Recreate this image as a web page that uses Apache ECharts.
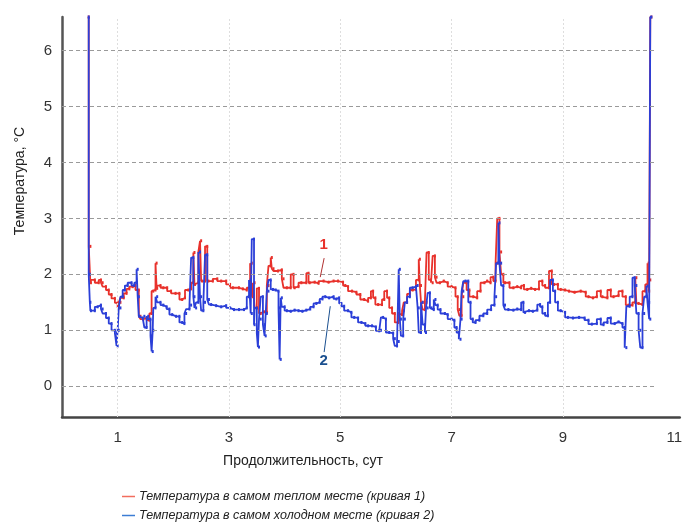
<!DOCTYPE html>
<html lang="ru">
<head>
    <meta charset="UTF-8">
    <title>Температура</title>
    <script src="https://cdn.jsdelivr.net/npm/echarts@6/dist/echarts.min.js"></script>
    <style>
        html, body { margin: 0; padding: 0; background: #fff; }
        #main { width: 685px; height: 524px; }
    </style>
</head>
<body>
<div id="main"></div>
<script>
    // время, сутки / температура в самом теплом месте (кривая 1)
    var warmDays = [0.48,0.51,0.52,0.59,0.66,0.70,0.73,0.79,0.84,0.89,0.95,1.00,1.02,1.05,1.11,1.16,1.21,1.27,1.32,1.38,
        1.41,1.46,1.52,1.57,1.61,1.64,1.68,1.70,1.71,1.77,1.82,1.89,1.96,2.04,2.11,2.16,2.21,2.27,2.32,2.36,
        2.38,2.39,2.45,2.48,2.50,2.52,2.57,2.61,2.63,2.71,2.79,2.86,2.95,3.02,3.07,3.18,3.25,3.32,3.38,3.41,
        3.43,3.46,3.50,3.54,3.57,3.63,3.68,3.71,3.75,3.77,3.80,3.88,3.95,3.98,4.04,4.11,4.16,4.18,4.25,4.30,
        4.39,4.43,4.45,4.54,4.61,4.70,4.79,4.88,4.96,5.05,5.09,5.14,5.21,5.29,5.36,5.43,5.50,5.55,5.59,5.63,
        5.68,5.75,5.79,5.84,5.88,5.93,5.98,6.04,6.05,6.11,6.14,6.20,6.25,6.30,6.36,6.41,6.43,6.45,6.48,6.52,
        6.55,6.59,6.63,6.66,6.70,6.73,6.79,6.86,6.93,7.00,7.07,7.11,7.14,7.18,7.21,7.27,7.32,7.39,7.46,7.52,
        7.59,7.64,7.70,7.75,7.79,7.82,7.86,7.89,7.93,7.96,8.04,8.11,8.18,8.25,8.30,8.36,8.43,8.50,8.57,8.63,
        8.68,8.75,8.80,8.84,8.91,8.96,9.04,9.11,9.21,9.32,9.41,9.46,9.54,9.61,9.68,9.71,9.80,9.86,9.91,10.00,
        10.07,10.13,10.18,10.25,10.30,10.32,10.36,10.43,10.48,10.52,10.54,10.55,10.57,10.59];
    var warmTemp = [6.6,2.5,1.85,1.9,1.85,1.9,1.85,1.78,1.72,1.64,1.57,1.49,1.4,1.5,1.58,1.66,1.74,1.78,1.8,1.72,
        1.25,1.2,1.22,1.18,1.3,1.7,1.72,2.2,1.75,1.8,1.76,1.76,1.7,1.66,1.66,1.55,1.58,1.72,1.74,1.85,
        2.39,1.82,1.85,2.4,2.6,1.88,1.88,2.5,1.88,1.88,1.92,1.88,1.88,1.82,1.76,1.76,1.74,1.72,1.76,2.2,
        1.6,1.85,1.4,1.75,1.3,1.33,1.32,1.8,2.15,2.3,2.1,2.06,2.08,1.92,1.76,1.76,2.0,1.76,1.78,1.85,
        1.85,2.02,1.85,1.86,1.84,1.88,1.86,1.88,1.88,1.86,1.8,1.78,1.7,1.68,1.64,1.55,1.52,1.58,1.7,1.58,
        1.46,1.46,1.55,1.7,1.58,1.4,1.3,1.14,1.3,1.28,1.35,1.5,1.65,1.72,1.73,1.9,2.27,1.8,1.5,1.37,
        1.5,2.39,1.9,1.85,2.33,1.95,1.85,1.88,1.85,1.78,1.76,1.6,1.37,1.26,1.6,1.85,1.72,1.6,1.58,1.7,
        1.85,1.88,1.85,1.95,1.88,2.2,3.0,2.4,2.0,1.85,1.85,1.76,1.78,1.76,1.8,1.73,1.75,1.73,1.74,1.88,
        1.8,1.76,2.06,1.82,1.82,1.73,1.72,1.7,1.68,1.7,1.68,1.6,1.58,1.6,1.7,1.6,1.58,1.72,1.6,1.62,
        1.7,1.6,1.45,1.45,1.5,1.94,1.48,1.46,1.7,1.82,2.2,1.7,1.9,6.6];

    // время, сутки / температура в самом холодном месте (кривая 2)
    var coldDays = [0.48,0.50,0.51,0.52,0.59,0.64,0.70,0.73,0.79,0.84,0.89,0.95,0.98,1.00,1.02,1.05,1.09,1.13,1.18,1.25,
        1.30,1.34,1.36,1.38,1.39,1.45,1.48,1.52,1.55,1.59,1.61,1.63,1.64,1.68,1.71,1.77,1.82,1.88,1.93,1.98,
        2.05,2.11,2.16,2.20,2.23,2.29,2.32,2.36,2.38,2.41,2.45,2.48,2.50,2.54,2.57,2.61,2.64,2.68,2.77,2.86,
        2.95,3.02,3.09,3.18,3.27,3.32,3.36,3.39,3.41,3.45,3.46,3.50,3.52,3.54,3.57,3.61,3.64,3.66,3.68,3.71,
        3.75,3.79,3.84,3.89,3.91,3.93,3.95,4.00,4.04,4.11,4.18,4.25,4.32,4.39,4.46,4.52,4.57,4.63,4.68,4.73,
        4.80,4.88,4.93,4.98,5.02,5.07,5.14,5.20,5.25,5.32,5.38,5.45,5.50,5.57,5.64,5.70,5.73,5.77,5.82,5.88,
        5.95,5.98,6.02,6.05,6.07,6.09,6.13,6.16,6.20,6.25,6.30,6.36,6.39,6.41,6.45,6.48,6.52,6.54,6.57,6.61,
        6.64,6.68,6.71,6.75,6.80,6.88,6.93,7.00,7.05,7.09,7.13,7.16,7.18,7.21,7.25,7.30,7.34,7.38,7.43,7.50,
        7.57,7.64,7.71,7.77,7.80,7.84,7.86,7.89,7.93,7.96,8.02,8.11,8.18,8.25,8.29,8.32,8.39,8.46,8.54,8.59,
        8.63,8.68,8.73,8.77,8.82,8.86,8.91,8.96,9.04,9.09,9.18,9.29,9.39,9.46,9.52,9.61,9.68,9.73,9.80,9.86,
        9.93,10.00,10.07,10.11,10.14,10.20,10.25,10.29,10.32,10.36,10.39,10.43,10.46,10.50,10.52,10.55,10.57,10.59];
    var coldTemp = [6.6,2.0,1.5,1.35,1.35,1.42,1.45,1.38,1.3,1.22,1.12,1.0,0.95,0.72,1.0,1.4,1.6,1.72,1.8,1.85,
        1.8,1.85,2.09,1.6,1.25,1.22,1.25,1.05,1.25,1.2,0.9,0.62,1.0,1.4,1.6,1.5,1.45,1.42,1.38,1.28,
        1.25,1.25,1.14,1.12,1.3,1.38,1.45,2.3,1.6,1.4,1.5,2.4,1.6,1.35,1.5,2.35,1.55,1.46,1.44,1.42,
        1.44,1.4,1.37,1.37,1.37,1.4,1.6,1.9,1.3,2.63,1.1,1.4,0.95,0.7,1.2,1.6,1.1,0.9,1.3,1.7,
        1.9,1.73,1.72,1.7,1.4,0.48,1.58,1.42,1.35,1.34,1.36,1.35,1.34,1.36,1.38,1.42,1.48,1.5,1.56,1.6,
        1.58,1.6,1.56,1.58,1.48,1.43,1.35,1.32,1.23,1.22,1.14,1.12,1.08,1.08,1.06,0.99,1.0,1.23,1.2,0.96,
        0.95,0.85,0.72,0.8,2.09,1.2,0.9,1.2,1.5,1.6,1.76,1.78,1.8,1.4,0.96,1.5,1.1,0.96,1.4,1.67,
        1.4,1.37,1.55,1.45,1.37,1.3,1.28,1.2,1.18,1.05,0.96,0.84,1.2,1.7,1.88,1.88,1.5,1.2,1.14,1.18,
        1.26,1.3,1.37,1.45,1.6,2.2,2.92,2.2,1.8,1.45,1.37,1.36,1.38,1.37,1.5,1.32,1.35,1.34,1.36,1.46,
        1.42,1.3,1.26,1.5,1.9,1.7,1.5,1.35,1.32,1.23,1.22,1.23,1.22,1.18,1.11,1.12,1.2,1.1,1.14,1.22,
        1.12,1.15,1.12,1.05,0.69,1.43,1.6,1.94,1.8,1.3,1.0,0.69,1.3,1.6,1.79,1.5,1.2,6.6];

    var yTicks = [0, 1, 2, 3, 4, 5, 6];
    var xTicks = [1, 3, 5, 7, 9, 11];
    var gridEnd = 10.68;   // где кончаются пунктирные линии сетки

    var warmName = 'Температура в самом теплом месте (кривая 1)';
    var coldName = 'Температура в самом холодном месте (кривая 2)';

    function pairs(xs, ys) {
        return xs.map(function (x, i) { return [x, ys[i]]; });
    }

    var gridLines = [];
    yTicks.forEach(function (v) {
        gridLines.push([{coord: [0, v], lineStyle: {color: '#9a9a9a', type: [4, 3], width: 1.2}},
                        {coord: [gridEnd, v]}]);
    });
    xTicks.forEach(function (v) {
        if (v < 11) {
            gridLines.push([{coord: [v, -0.55], lineStyle: {color: '#dedede', type: [2, 2], width: 1}},
                            {coord: [v, 6.6]}]);
        }
    });

    var myChart = echarts.init(document.getElementById('main'));
    var font = '"Liberation Sans", Arial, sans-serif';

    var option = {
        animation: false,
        textStyle: {fontFamily: font},
        grid: {left: 62, top: 17, width: 622, height: 400},
        legend: {
            orient: 'vertical',
            left: 122,
            top: 489,
            padding: 0,
            itemWidth: 13,
            itemHeight: 1.5,
            itemGap: 4,
            icon: 'rect',
            textStyle: {fontSize: 12.5, fontStyle: 'italic', color: '#222', fontFamily: font, lineHeight: 15, padding: [0, 0, 0, -1]},
            data: [
                {name: warmName, itemStyle: {color: '#f26d5e'}},
                {name: coldName, itemStyle: {color: '#3c7dd4'}}
            ]
        },
        xAxis: {
            type: 'value',
            min: 0,
            max: 11.1,
            interval: 1,
            axisLine: {show: true, onZero: false, lineStyle: {color: '#444', width: 2.5}},
            axisTick: {show: false},
            splitLine: {show: false},
            axisLabel: {
                fontSize: 15, color: '#333', margin: 13,
                formatter: function (v) { return xTicks.indexOf(v) >= 0 ? String(v) : ''; }
            }
        },
        yAxis: {
            type: 'value',
            min: -0.55,
            max: 6.6,
            interval: 0.05,
            axisLine: {show: true, onZero: false, lineStyle: {color: '#555', width: 2.5}},
            axisTick: {show: false},
            splitLine: {show: false},
            axisLabel: {
                fontSize: 15, color: '#333', margin: 10,
                formatter: function (v) {
                    var r = Math.round(v);
                    return (Math.abs(v - r) < 1e-6 && yTicks.indexOf(r) >= 0) ? String(r) : '';
                }
            }
        },
        graphic: [
            {type: 'text', x: 20, y: 181, rotation: Math.PI / 2,
             style: {text: 'Температура, °C', font: '14px ' + font, fill: '#222', textAlign: 'center', textVerticalAlign: 'middle'}},
            {type: 'text', x: 303, y: 461,
             style: {text: 'Продолжительность, сут', font: '14px ' + font, fill: '#222', textAlign: 'center', textVerticalAlign: 'middle'}}
        ],
        series: [
            {
                name: warmName,
                type: 'line',
                step: 'start',
                showSymbol: true,
                symbol: 'rect',
                symbolSize: [2, 3],
                data: pairs(warmDays, warmTemp),
                lineStyle: {color: '#e8312b', width: 1.8},
                itemStyle: {color: '#e8312b'},
                markLine: {
                    silent: true,
                    symbol: 'none',
                    label: {show: false},
                    data: gridLines.concat([
                        [{coord: [4.71, 2.29], lineStyle: {color: '#b03030', type: 'solid', width: 1}}, {coord: [4.64, 1.95]}]
                    ])
                },
                markPoint: {
                    silent: true,
                    symbolSize: 0,
                    data: [{coord: [4.70, 2.52], label: {show: true, formatter: '1', color: '#e8312b', fontSize: 15, fontWeight: 'bold'}}]
                },
                z: 3
            },
            {
                name: coldName,
                type: 'line',
                step: 'start',
                showSymbol: true,
                symbol: 'rect',
                symbolSize: [2, 3],
                data: pairs(coldDays, coldTemp),
                lineStyle: {color: '#2b3fd8', width: 1.8},
                itemStyle: {color: '#2b3fd8'},
                markLine: {
                    silent: true,
                    symbol: 'none',
                    label: {show: false},
                    data: [
                        [{coord: [4.71, 0.61], lineStyle: {color: '#1a4f8f', type: 'solid', width: 1}}, {coord: [4.82, 1.43]}]
                    ]
                },
                markPoint: {
                    silent: true,
                    symbolSize: 0,
                    data: [{coord: [4.70, 0.45], label: {show: true, formatter: '2', color: '#1a4f8f', fontSize: 15, fontWeight: 'bold'}}]
                },
                z: 4
            }
        ]
    };

    myChart.setOption(option);
</script>
</body>
</html>
